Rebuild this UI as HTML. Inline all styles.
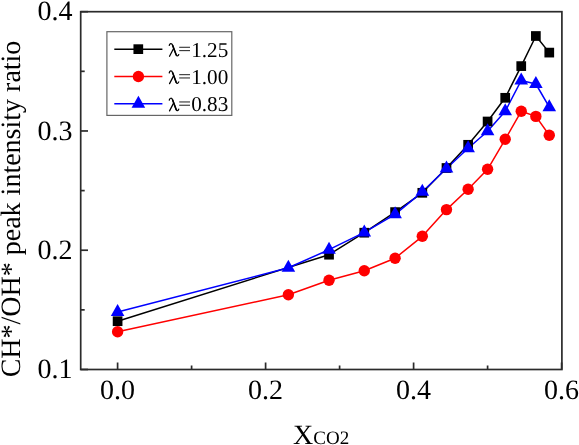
<!DOCTYPE html>
<html><head><meta charset="utf-8"><style>
html,body{margin:0;padding:0;background:#fff;}
body{width:579px;height:445px;overflow:hidden;}
svg{display:block;font-family:"Liberation Serif",serif;}
text{text-rendering:geometricPrecision;}
svg{will-change:transform;}
</style></head><body>
<svg width="579" height="445" viewBox="0 0 579 445">
<rect x="0" y="0" width="579" height="445" fill="#fff"/>
<polyline points="117.6,321.2 329.0,254.7 364.3,232.7 395.1,212.1 422.3,192.8 446.5,168.0 468.1,144.8 487.6,121.5 505.2,97.8 521.2,66.1 535.9,36.0 549.3,52.6" fill="none" stroke="#000" stroke-width="1.5" stroke-linejoin="round"/>
<polyline points="117.6,331.8 288.4,294.8 329.0,280.3 364.3,270.7 395.1,258.2 422.3,236.3 446.5,209.6 468.1,189.3 487.6,169.3 505.2,139.3 521.2,111.3 535.9,116.4 549.3,135.2" fill="none" stroke="#f00" stroke-width="1.5" stroke-linejoin="round"/>
<polyline points="117.6,312.0 288.4,267.8 329.0,249.7 364.3,232.4 395.1,214.3 422.3,191.8 446.5,168.5 468.1,148.3 487.6,131.3 505.2,111.3 521.2,80.5 535.9,84.0 549.3,107.2" fill="none" stroke="#00f" stroke-width="1.5" stroke-linejoin="round"/>
<rect x="112.75" y="316.35" width="9.7" height="9.7" fill="#000"/>
<rect x="324.18" y="249.85" width="9.7" height="9.7" fill="#000"/>
<rect x="359.42" y="227.85" width="9.7" height="9.7" fill="#000"/>
<rect x="390.25" y="207.25" width="9.7" height="9.7" fill="#000"/>
<rect x="417.46" y="187.95" width="9.7" height="9.7" fill="#000"/>
<rect x="441.64" y="163.15" width="9.7" height="9.7" fill="#000"/>
<rect x="463.28" y="139.95" width="9.7" height="9.7" fill="#000"/>
<rect x="482.75" y="116.65" width="9.7" height="9.7" fill="#000"/>
<rect x="500.37" y="92.95" width="9.7" height="9.7" fill="#000"/>
<rect x="516.39" y="61.25" width="9.7" height="9.7" fill="#000"/>
<rect x="531.01" y="31.15" width="9.7" height="9.7" fill="#000"/>
<rect x="544.42" y="47.75" width="9.7" height="9.7" fill="#000"/>
<circle cx="117.60" cy="331.80" r="5.7" fill="#f00"/>
<circle cx="288.37" cy="294.80" r="5.7" fill="#f00"/>
<circle cx="329.03" cy="280.30" r="5.7" fill="#f00"/>
<circle cx="364.27" cy="270.70" r="5.7" fill="#f00"/>
<circle cx="395.10" cy="258.20" r="5.7" fill="#f00"/>
<circle cx="422.31" cy="236.30" r="5.7" fill="#f00"/>
<circle cx="446.49" cy="209.60" r="5.7" fill="#f00"/>
<circle cx="468.13" cy="189.30" r="5.7" fill="#f00"/>
<circle cx="487.60" cy="169.30" r="5.7" fill="#f00"/>
<circle cx="505.22" cy="139.30" r="5.7" fill="#f00"/>
<circle cx="521.24" cy="111.30" r="5.7" fill="#f00"/>
<circle cx="535.86" cy="116.40" r="5.7" fill="#f00"/>
<circle cx="549.27" cy="135.20" r="5.7" fill="#f00"/>
<polygon points="117.60,304.00 110.80,316.00 124.40,316.00" fill="#00f"/>
<polygon points="288.37,259.80 281.57,271.80 295.17,271.80" fill="#00f"/>
<polygon points="329.03,241.70 322.23,253.70 335.83,253.70" fill="#00f"/>
<polygon points="364.27,224.40 357.47,236.40 371.07,236.40" fill="#00f"/>
<polygon points="395.10,206.30 388.30,218.30 401.90,218.30" fill="#00f"/>
<polygon points="422.31,183.80 415.51,195.80 429.11,195.80" fill="#00f"/>
<polygon points="446.49,160.50 439.69,172.50 453.29,172.50" fill="#00f"/>
<polygon points="468.13,140.30 461.33,152.30 474.93,152.30" fill="#00f"/>
<polygon points="487.60,123.30 480.80,135.30 494.40,135.30" fill="#00f"/>
<polygon points="505.22,103.30 498.42,115.30 512.02,115.30" fill="#00f"/>
<polygon points="521.24,72.50 514.44,84.50 528.04,84.50" fill="#00f"/>
<polygon points="535.86,76.00 529.06,88.00 542.66,88.00" fill="#00f"/>
<polygon points="549.27,99.20 542.47,111.20 556.07,111.20" fill="#00f"/>
<rect x="80.7" y="11.7" width="481.2" height="357.8" fill="none" stroke="#2b2b2b" stroke-width="1.7"/>
<line x1="80.7" y1="369.50" x2="88.0" y2="369.50" stroke="#2b2b2b" stroke-width="1.7"/>
<line x1="80.7" y1="250.23" x2="88.0" y2="250.23" stroke="#2b2b2b" stroke-width="1.7"/>
<line x1="80.7" y1="130.97" x2="88.0" y2="130.97" stroke="#2b2b2b" stroke-width="1.7"/>
<line x1="80.7" y1="11.70" x2="88.0" y2="11.70" stroke="#2b2b2b" stroke-width="1.7"/>
<line x1="80.7" y1="309.87" x2="84.7" y2="309.87" stroke="#2b2b2b" stroke-width="1.7"/>
<line x1="80.7" y1="190.60" x2="84.7" y2="190.60" stroke="#2b2b2b" stroke-width="1.7"/>
<line x1="80.7" y1="71.33" x2="84.7" y2="71.33" stroke="#2b2b2b" stroke-width="1.7"/>
<line x1="117.60" y1="369.5" x2="117.60" y2="362.5" stroke="#2b2b2b" stroke-width="1.7"/>
<line x1="265.60" y1="369.5" x2="265.60" y2="362.5" stroke="#2b2b2b" stroke-width="1.7"/>
<line x1="413.60" y1="369.5" x2="413.60" y2="362.5" stroke="#2b2b2b" stroke-width="1.7"/>
<line x1="561.60" y1="369.5" x2="561.60" y2="362.5" stroke="#2b2b2b" stroke-width="1.7"/>
<line x1="191.60" y1="369.5" x2="191.60" y2="365.5" stroke="#2b2b2b" stroke-width="1.7"/>
<line x1="339.60" y1="369.5" x2="339.60" y2="365.5" stroke="#2b2b2b" stroke-width="1.7"/>
<line x1="487.60" y1="369.5" x2="487.60" y2="365.5" stroke="#2b2b2b" stroke-width="1.7"/>
<text x="72.6" y="378.0" font-size="28" text-anchor="end" fill="#000">0.1</text>
<text x="72.6" y="258.7" font-size="28" text-anchor="end" fill="#000">0.2</text>
<text x="72.6" y="139.5" font-size="28" text-anchor="end" fill="#000">0.3</text>
<text x="72.6" y="20.2" font-size="28" text-anchor="end" fill="#000">0.4</text>
<text x="117.6" y="399.3" font-size="28" text-anchor="middle" fill="#000">0.0</text>
<text x="265.6" y="399.3" font-size="28" text-anchor="middle" fill="#000">0.2</text>
<text x="413.6" y="399.3" font-size="28" text-anchor="middle" fill="#000">0.4</text>
<text x="561.6" y="399.3" font-size="28" text-anchor="middle" fill="#000">0.6</text>
<text x="293" y="443.5" font-size="28" fill="#000">X<tspan font-size="19">CO2</tspan></text>
<text transform="translate(20.2,209.0) rotate(-90)" x="0" y="0" font-size="28" text-anchor="middle" fill="#000">CH*/OH* peak intensity ratio</text>
<rect x="106.9" y="31.7" width="124.9" height="83.7" fill="#fff" stroke="#666" stroke-width="1.2"/>
<line x1="114.3" y1="49.15" x2="162.4" y2="49.15" stroke="#000" stroke-width="1.5"/>
<rect x="133.45" y="44.30" width="9.7" height="9.7" fill="#000"/>
<g transform="translate(167.75,56.65)" fill="none" stroke="#000" stroke-linecap="round"><path d="M1.5,-11.2 C1.9,-13.4 3.9,-13.8 4.8,-11.6 L8.4,-1.8 C9.0,-0.2 10.4,-0.3 11.0,-2.1" stroke-width="1.25"/><path d="M4.9,-11.2 L8.4,-1.8" stroke-width="1.55"/><path d="M5.7,-7.9 L1.8,-0.4" stroke-width="1.25"/></g>
<rect x="179.2" y="46.75" width="10.8" height="1.1" fill="#333"/><rect x="179.2" y="50.05" width="10.8" height="1.1" fill="#333"/>
<text x="191.2" y="56.5" font-size="21.2" fill="#000">1.25</text>
<line x1="114.3" y1="76.5" x2="162.4" y2="76.5" stroke="#f00" stroke-width="1.5"/>
<circle cx="138.40" cy="76.50" r="5.7" fill="#f00"/>
<g transform="translate(167.75,84.00)" fill="none" stroke="#000" stroke-linecap="round"><path d="M1.5,-11.2 C1.9,-13.4 3.9,-13.8 4.8,-11.6 L8.4,-1.8 C9.0,-0.2 10.4,-0.3 11.0,-2.1" stroke-width="1.25"/><path d="M4.9,-11.2 L8.4,-1.8" stroke-width="1.55"/><path d="M5.7,-7.9 L1.8,-0.4" stroke-width="1.25"/></g>
<rect x="179.2" y="74.10" width="10.8" height="1.1" fill="#333"/><rect x="179.2" y="77.40" width="10.8" height="1.1" fill="#333"/>
<text x="191.2" y="83.9" font-size="21.2" fill="#000">1.00</text>
<line x1="114.3" y1="103.8" x2="162.4" y2="103.8" stroke="#00f" stroke-width="1.5"/>
<polygon points="138.40,95.80 131.60,107.80 145.20,107.80" fill="#00f"/>
<g transform="translate(167.75,111.30)" fill="none" stroke="#000" stroke-linecap="round"><path d="M1.5,-11.2 C1.9,-13.4 3.9,-13.8 4.8,-11.6 L8.4,-1.8 C9.0,-0.2 10.4,-0.3 11.0,-2.1" stroke-width="1.25"/><path d="M4.9,-11.2 L8.4,-1.8" stroke-width="1.55"/><path d="M5.7,-7.9 L1.8,-0.4" stroke-width="1.25"/></g>
<rect x="179.2" y="101.40" width="10.8" height="1.1" fill="#333"/><rect x="179.2" y="104.70" width="10.8" height="1.1" fill="#333"/>
<text x="191.2" y="111.2" font-size="21.2" fill="#000">0.83</text>
</svg>
</body></html>
